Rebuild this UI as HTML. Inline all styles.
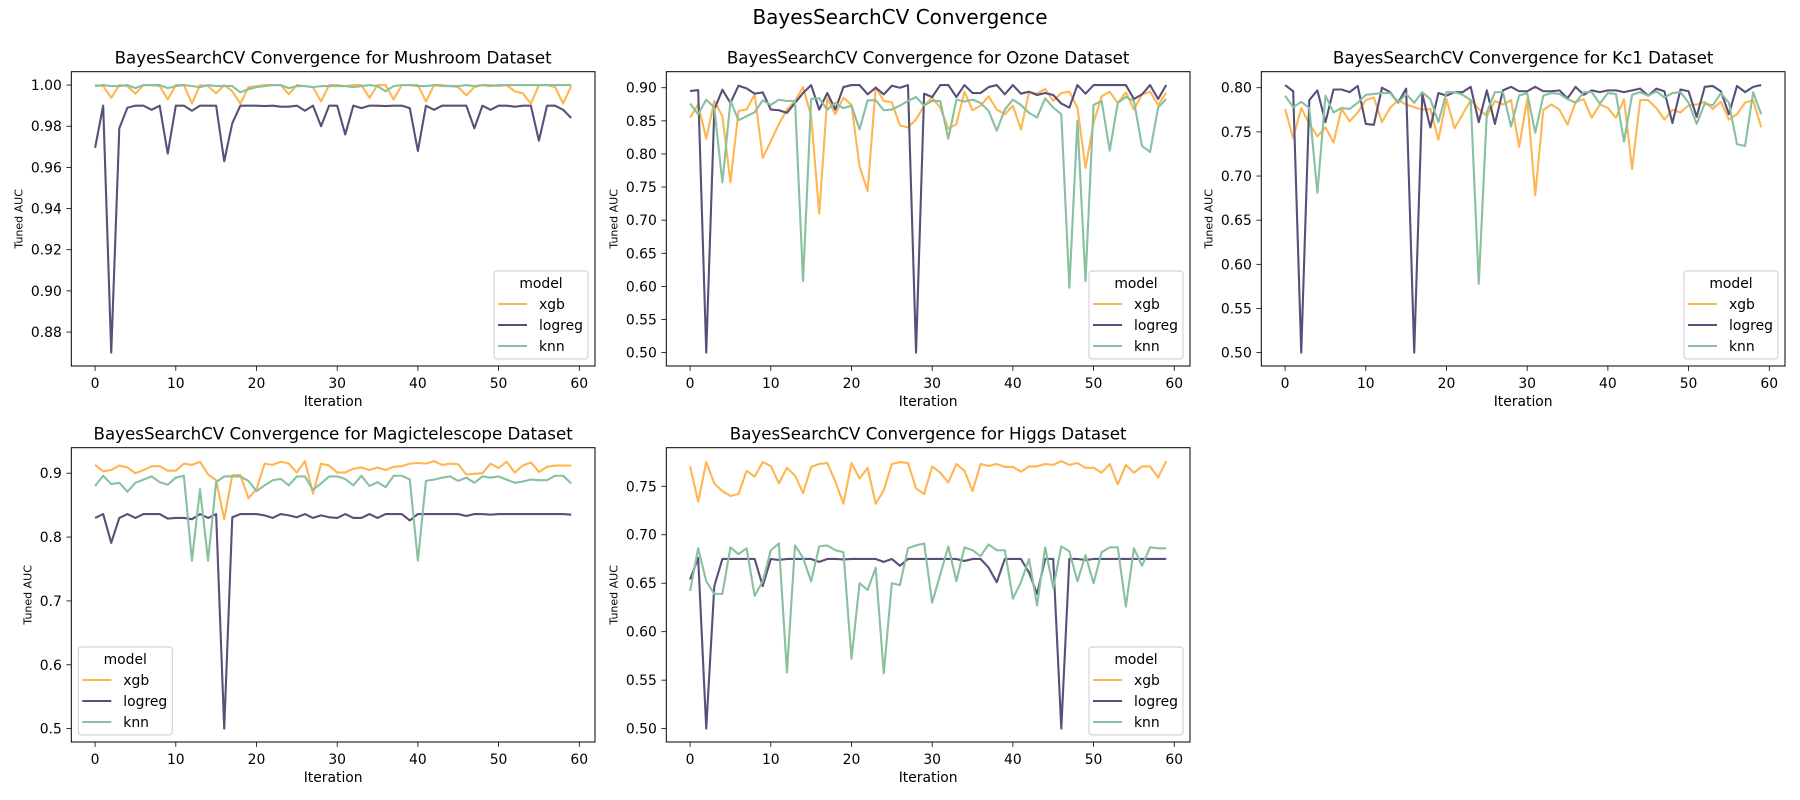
<!DOCTYPE html>
<html><head><meta charset="utf-8"><title>BayesSearchCV Convergence</title>
<style>html,body{margin:0;padding:0;background:#fff;}svg{display:block;font-family:"DejaVu Sans","Liberation Sans",sans-serif;}</style>
</head><body>
<svg id="fig" width="1800" height="800" viewBox="0 0 1800 800">
<text x="900" y="24" text-anchor="middle" font-size="20" fill="#000">BayesSearchCV Convergence</text>
</svg>
<script>
const modelNames = ["xgb", "logreg", "knn"];
const mushroomXgb = [1.0,.9995,.9938,1.0,.9995,.9958,1.0,1.0,.9995,.993,1.0,1.0,.991,1.0,.9995,.996,1.0,.997,.991,.999,.9995,1.0,1.0,1.0,.9955,1.0,.9995,.999,.992,1.0,1.0,.9995,1.0,1.0,.9938,1.0,1.0,.993,1.0,1.0,1.0,.992,1.0,1.0,.9995,.999,.995,.999,1.0,1.0,.9995,1.0,.997,.996,.991,1.0,1.0,.999,.991,.9995];
const mushroomLogreg = [.9695,.990,.870,.979,.989,.990,.990,.988,.990,.9667,.990,.990,.9875,.990,.990,.990,.963,.9815,.990,.990,.990,.9898,.990,.9895,.9895,.990,.9875,.990,.980,.990,.990,.976,.990,.9888,.990,.990,.9898,.990,.990,.9888,.968,.990,.988,.990,.990,.990,.990,.979,.990,.988,.990,.990,.9895,.990,.990,.973,.990,.990,.988,.984];
const mushroomKnn = [.9995,1.0,.9995,.9995,1.0,.9985,1.0,1.0,1.0,.9985,.9995,1.0,.9995,.999,1.0,.9995,.9995,.9995,.9965,.998,.999,.9995,1.0,1.0,.9985,.9995,.9995,.999,.9995,.9995,.9995,.9995,.999,.9995,1.0,.9995,.997,.9995,1.0,1.0,.9995,.9995,1.0,.9995,.9995,.9995,1.0,.9995,1.0,.9995,1.0,1.0,1.0,1.0,1.0,1.0,1.0,1.0,1.0,1.0];
const ozoneXgb = [.855,.875,.823,.880,.857,.757,.865,.867,.890,.794,.819,.845,.867,.880,.901,.857,.710,.884,.860,.885,.874,.781,.744,.901,.880,.878,.843,.840,.852,.873,.885,.870,.838,.845,.894,.866,.873,.887,.867,.860,.873,.837,.893,.891,.898,.880,.892,.894,.870,.779,.847,.887,.894,.877,.893,.867,.890,.894,.874,.892];
const ozoneLogreg = [.895,.8965,.50,.867,.897,.877,.903,.899,.891,.893,.867,.866,.862,.877,.892,.904,.867,.892,.867,.901,.904,.904,.890,.900,.890,.903,.900,.904,.50,.891,.886,.904,.904,.886,.904,.892,.892,.901,.904,.890,.904,.891,.894,.889,.892,.889,.876,.870,.904,.891,.904,.904,.904,.904,.904,.883,.890,.904,.883,.904];
const ozoneKnn = [.876,.860,.882,.870,.757,.880,.851,.857,.863,.881,.874,.882,.880,.880,.608,.883,.884,.867,.877,.869,.873,.837,.881,.881,.866,.867,.873,.880,.886,.873,.880,.880,.823,.882,.879,.882,.877,.865,.835,.867,.882,.874,.862,.855,.884,.870,.860,.598,.850,.608,.874,.880,.805,.877,.886,.880,.812,.803,.870,.883];
const kc1Xgb = [.776,.743,.777,.759,.745,.755,.738,.776,.762,.772,.786,.789,.761,.777,.786,.781,.778,.775,.776,.741,.787,.754,.770,.786,.776,.768,.785,.781,.786,.733,.787,.678,.775,.781,.775,.758,.784,.787,.766,.781,.777,.766,.787,.708,.786,.786,.777,.764,.775,.772,.780,.781,.784,.776,.784,.764,.770,.783,.786,.755];
const kc1Logreg = [.803,.796,.50,.786,.797,.761,.798,.798,.795,.802,.759,.758,.800,.795,.783,.799,.50,.793,.755,.794,.791,.795,.795,.801,.761,.797,.759,.797,.801,.796,.796,.801,.796,.796,.797,.788,.801,.792,.797,.795,.797,.797,.795,.797,.799,.791,.799,.796,.760,.798,.796,.767,.801,.802,.796,.770,.802,.795,.801,.803];
const kc1Knn = [.791,.778,.784,.777,.681,.791,.772,.777,.776,.783,.792,.793,.794,.794,.783,.793,.783,.795,.787,.761,.795,.795,.792,.786,.578,.772,.795,.795,.756,.791,.794,.749,.791,.794,.793,.787,.783,.795,.795,.782,.794,.793,.739,.792,.795,.791,.796,.789,.794,.795,.783,.759,.782,.780,.794,.783,.736,.734,.795,.770];
const mtXgb = [.913,.903,.905,.912,.909,.900,.905,.911,.911,.904,.904,.915,.913,.918,.898,.889,.828,.897,.897,.861,.875,.915,.913,.918,.915,.901,.919,.868,.915,.912,.901,.901,.907,.909,.905,.909,.905,.910,.911,.915,.916,.915,.919,.913,.915,.914,.898,.899,.900,.915,.908,.918,.901,.912,.917,.902,.910,.912,.912,.912];
const mtLogreg = [.830,.836,.791,.830,.836,.830,.836,.836,.836,.829,.830,.830,.828,.836,.830,.836,.50,.831,.836,.836,.836,.834,.830,.836,.834,.831,.836,.830,.834,.831,.830,.836,.830,.830,.836,.830,.836,.836,.836,.826,.836,.836,.836,.836,.836,.836,.833,.836,.836,.835,.836,.836,.836,.836,.836,.836,.836,.836,.836,.835];
const mtKnn = [.880,.896,.883,.885,.871,.885,.890,.895,.886,.882,.893,.896,.763,.875,.763,.886,.895,.895,.895,.888,.872,.881,.889,.891,.881,.895,.895,.874,.884,.895,.895,.891,.881,.896,.880,.886,.878,.896,.896,.890,.763,.888,.890,.893,.895,.888,.893,.885,.895,.893,.895,.890,.885,.887,.890,.889,.889,.896,.896,.884];
const higgsXgb = [.7705,.734,.775,.753,.745,.740,.742,.766,.760,.775,.771,.753,.769,.761,.743,.770,.773,.774,.755,.732,.774,.758,.769,.732,.746,.773,.775,.774,.748,.742,.7705,.764,.754,.773,.766,.745,.773,.771,.773,.770,.770,.765,.7705,.7705,.773,.772,.776,.772,.774,.769,.769,.764,.773,.752,.772,.764,.7705,.7705,.759,.776];
const higgsLogreg = [.654,.676,.50,.647,.675,.675,.675,.675,.675,.647,.675,.674,.675,.675,.675,.675,.672,.675,.675,.6745,.675,.675,.675,.675,.672,.675,.668,.675,.675,.675,.675,.675,.675,.675,.673,.675,.675,.666,.651,.675,.675,.675,.661,.639,.675,.675,.50,.675,.675,.674,.675,.675,.675,.675,.675,.675,.675,.675,.675,.675];
const higgsKnn = [.642,.686,.652,.639,.639,.687,.680,.686,.637,.652,.684,.691,.558,.689,.676,.652,.688,.689,.684,.682,.572,.650,.643,.666,.557,.650,.648,.686,.689,.691,.630,.659,.688,.652,.687,.684,.678,.690,.684,.684,.634,.651,.675,.627,.687,.645,.688,.683,.652,.679,.650,.682,.687,.687,.626,.686,.668,.687,.686,.686];
const xTickLabels = ["0","10","20","30","40","50","60"];
const mushroomYTicks = ["0.88","0.90","0.92","0.94","0.96","0.98","1.00"];
const ozoneYTicks = ["0.50","0.55","0.60","0.65","0.70","0.75","0.80","0.85","0.90"];
const kc1YTicks = ["0.50","0.55","0.60","0.65","0.70","0.75","0.80"];
const mtYTicks = ["0.5","0.6","0.7","0.8","0.9"];
const higgsYTicks = ["0.50","0.55","0.60","0.65","0.70","0.75"];

const NS = "http://www.w3.org/2000/svg";
const svg = document.getElementById("fig");
const COLORS = ["#ffb650", "#58507a", "#88c0a0"];
const W = 523.7, H = 294.3;
function mk(tag, attrs, parent) {
  const e = document.createElementNS(NS, tag);
  for (const k in attrs) e.setAttribute(k, attrs[k]);
  parent.appendChild(e);
  return e;
}
const panels = [
  {key:"mushroom", title:"BayesSearchCV Convergence for Mushroom Dataset", left:71.3, top:71.7, series:[mushroomXgb,mushroomLogreg,mushroomKnn], yt:mushroomYTicks, legend:"br"},
  {key:"ozone", title:"BayesSearchCV Convergence for Ozone Dataset", left:666.3, top:71.7, series:[ozoneXgb,ozoneLogreg,ozoneKnn], yt:ozoneYTicks, legend:"br"},
  {key:"kc1", title:"BayesSearchCV Convergence for Kc1 Dataset", left:1261.3, top:71.7, series:[kc1Xgb,kc1Logreg,kc1Knn], yt:kc1YTicks, legend:"br"},
  {key:"magictelescope", title:"BayesSearchCV Convergence for Magictelescope Dataset", left:71.3, top:447.7, series:[mtXgb,mtLogreg,mtKnn], yt:mtYTicks, legend:"bl"},
  {key:"higgs", title:"BayesSearchCV Convergence for Higgs Dataset", left:666.3, top:447.7, series:[higgsXgb,higgsLogreg,higgsKnn], yt:higgsYTicks, legend:"br"}
];
panels.forEach(p => {
  const g = mk("g", {}, svg);
  
  
  const all = [].concat(...p.series);
  const mn = Math.min(...all), mx = Math.max(...all), r = mx - mn;
  const y0 = mn - 0.05 * r, y1 = mx + 0.05 * r;
  const n = p.series[0].length;
  const x0 = -0.05 * (n - 1), x1 = (n - 1) * 1.05;
  const xs = v => p.left + (v - x0) / (x1 - x0) * W;
  const ys = v => p.top + H - (v - y0) / (y1 - y0) * H;
  const t = mk("text", {x:p.left + W/2, y:p.top - 8.3, "text-anchor":"middle", "font-size":"16.67", fill:"#000"}, g);
  t.textContent = p.title;
  
  
  // x ticks
  xTickLabels.forEach(lab => {
    const v = parseFloat(lab), x = xs(v);
    const tk = mk("line", {x1:x, x2:x, y1:p.top+H, y2:p.top+H+4.9, stroke:"#000", "stroke-width":"0.8"}, g);
    
    
    const tl = mk("text", {x:x, y:p.top+H+22, "text-anchor":"middle", "font-size":"13.9", fill:"#000"}, g);
    tl.textContent = lab;
    
    
  });
  p.yt.forEach(lab => {
    const v = parseFloat(lab), y = ys(v);
    const tk = mk("line", {x1:p.left-4.9, x2:p.left, y1:y, y2:y, stroke:"#000", "stroke-width":"0.8"}, g);
    
    
    const tl = mk("text", {x:p.left-9.5, y:y+5, "text-anchor":"end", "font-size":"13.9", fill:"#000"}, g);
    tl.textContent = lab;
    
    
  });
  const xl = mk("text", {x:p.left + W/2, y:p.top+H+40, "text-anchor":"middle", "font-size":"13.9", fill:"#000"}, g);
  xl.textContent = "Iteration";
  
  
  const yoff = p.yt[0].length === 3 ? 43.6 : 53;
  const yl = mk("text", {x:0, y:0, "text-anchor":"middle", "font-size":"11", fill:"#000", transform:`translate(${p.left - yoff + 4},${p.top + H/2}) rotate(-90)`}, g);
  yl.textContent = "Tuned AUC";
  
  
  // series
  p.series.forEach((arr, si) => {
    const d = arr.map((v, i) => (i ? "L" : "M") + xs(i).toFixed(2) + "," + ys(v).toFixed(2)).join("");
    const pl = mk("path", {d:d, fill:"none", stroke:COLORS[si], "stroke-width":"2.1", "stroke-linejoin":"round"}, g);
    
    
  });
  const fr = mk("rect", {x:p.left, y:p.top, width:W, height:H, fill:"none", stroke:"#000", "stroke-width":"1"}, g);
  
  
  // legend
  const lw = 94, lh = 88;
  const lx = p.legend === "bl" ? p.left + 7 : p.left + W - 7 - lw;
  const ly = p.top + H - 7 - lh;
  const lg = mk("g", {}, g);
  
  
  mk("rect", {x:lx, y:ly, width:lw, height:lh, rx:3, fill:"#fff", "fill-opacity":"0.8", stroke:"#cccccc", "stroke-width":"1"}, lg);
  const lt = mk("text", {x:lx + lw/2, y:ly + 17, "text-anchor":"middle", "font-size":"13.9", fill:"#000"}, lg);
  lt.textContent = "model";
  
  
  modelNames.forEach((m, i) => {
    const yy = ly + 33 + i * 21;
    const ll = mk("line", {x1:lx+4, x2:lx+33, y1:yy, y2:yy, stroke:COLORS[i], "stroke-width":"2.1"}, lg);
    
    
    const tx = mk("text", {x:lx+45, y:yy+5, "font-size":"13.9", fill:"#000"}, lg);
    tx.textContent = m;
    
    
  });
});
</script>
</body></html>
